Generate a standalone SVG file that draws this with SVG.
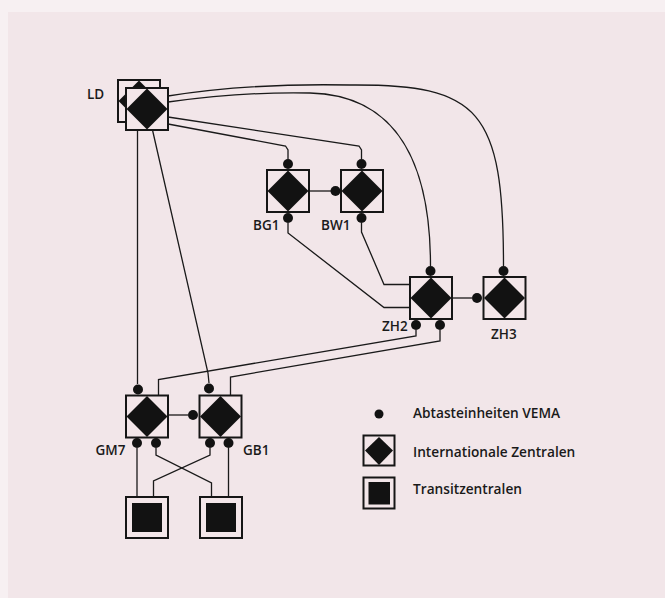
<svg xmlns="http://www.w3.org/2000/svg" xmlns:xlink="http://www.w3.org/1999/xlink" width="665" height="598" viewBox="0 0 665 598">
<style>
.box{fill:#f3e6e9;stroke:#161616;stroke-width:2}
.dia{fill:#121212}
.blk{fill:#121212}
.dot{fill:#121212}
.con{fill:none;stroke:#1a1a1a;stroke-width:1.3}
.lbl{font-family:"Open Sans","Noto Sans",sans-serif;font-size:13.5px;font-weight:600;fill:#1a1a1a}
.leg{font-family:"Open Sans","Noto Sans",sans-serif;font-size:13.7px;font-weight:600;fill:#1a1a1a}
</style>
<defs>
<g id="intl">
<rect class="box" x="0" y="0" width="42" height="42"/>
<polygon class="dia" points="21,0.5 41.5,21 21,41.5 0.5,21"/>
</g>
<g id="transit">
<rect class="box" x="0" y="0" width="42" height="41"/>
<rect class="blk" x="6" y="6" width="30" height="29"/>
</g>
</defs>
<rect x="0" y="0" width="665" height="598" fill="#f7f0f2"/>
<rect x="8" y="12" width="657" height="586" fill="#f2e6e9"/>

<g id="connectors">
<path class="con" d="M168,96 C230,86 300,84 350,85 C480,84 503.5,110 503.5,266"/>
<path class="con" d="M168,102 C220,95 270,92 310,93 C398,95 430.5,165 430.5,266"/>
<path class="con" d="M168,117 L359,146 L361.5,150 L361.5,159"/>
<path class="con" d="M168,124 L285.5,146 L288,150 L288,159"/>
<path class="con" d="M137.5,130 L137.5,384"/>
<path class="con" d="M152.5,130 L208,373 L209,383"/>
<path class="con" d="M309,191 L331,191"/>
<path class="con" d="M288,223 L288,233 L384,307.5 L410,307.5"/>
<path class="con" d="M361.5,223 L361.5,232 L384,284.5 L410,284.5"/>
<path class="con" d="M452,298 L472,298"/>
<path class="con" d="M416,330 L416,336 L158.5,379.5 L158.5,395.5"/>
<path class="con" d="M440,330 L440,341 L230.5,377 L230.5,395.5"/>
<path class="con" d="M168,415 L188,415"/>
<path class="con" d="M137,448 L137,497"/>
<path class="con" d="M156,448 L156,455 L211.5,483 L211.5,497"/>
<path class="con" d="M210,448 L210,455 L153.5,481 L153.5,497"/>
<path class="con" d="M228.5,448 L228.5,497"/>
</g>

<g id="LD">
<use xlink:href="#intl" x="118" y="80"/>
<use xlink:href="#intl" x="126" y="88"/>
<text class="lbl" x="87" y="98.5">LD</text>
</g>
<g id="BG1">
<use xlink:href="#intl" x="267" y="170"/>
<circle class="dot" cx="288" cy="164" r="5"/>
<circle class="dot" cx="288" cy="218" r="5"/>
<text class="lbl" x="253" y="230">BG1</text>
</g>
<g id="BW1">
<use xlink:href="#intl" x="341" y="170"/>
<circle class="dot" cx="361.5" cy="164" r="5"/>
<circle class="dot" cx="335.5" cy="191" r="5"/>
<circle class="dot" cx="361.5" cy="218" r="5"/>
<text class="lbl" x="321" y="230">BW1</text>
</g>
<g id="ZH2">
<use xlink:href="#intl" x="410" y="277"/>
<circle class="dot" cx="430.5" cy="271" r="5"/>
<circle class="dot" cx="416" cy="325" r="5"/>
<circle class="dot" cx="440" cy="325" r="5"/>
<text class="lbl" x="382" y="331">ZH2</text>
</g>
<g id="ZH3">
<use xlink:href="#intl" x="483.5" y="277"/>
<circle class="dot" cx="503.5" cy="271" r="5"/>
<circle class="dot" cx="477" cy="298" r="5"/>
<text class="lbl" x="491" y="338.5">ZH3</text>
</g>
<g id="GM7">
<use xlink:href="#intl" x="126" y="395.5"/>
<circle class="dot" cx="138" cy="389.5" r="5"/>
<circle class="dot" cx="137" cy="443" r="5"/>
<circle class="dot" cx="156" cy="443" r="5"/>
<text class="lbl" x="95.5" y="455">GM7</text>
</g>
<g id="GB1">
<use xlink:href="#intl" x="199.5" y="395.5"/>
<circle class="dot" cx="209" cy="388.5" r="5"/>
<circle class="dot" cx="193" cy="415" r="5"/>
<circle class="dot" cx="210" cy="443" r="5"/>
<circle class="dot" cx="228.5" cy="443" r="5"/>
<text class="lbl" x="243" y="455">GB1</text>
</g>
<g id="T1">
<use xlink:href="#transit" x="126" y="497"/>
</g>
<g id="T2">
<use xlink:href="#transit" x="200" y="497"/>
</g>

<g id="legend">
<circle class="dot" cx="379" cy="414" r="4.5"/>
<text class="leg" x="413" y="418">Abtasteinheiten VEMA</text>
<rect class="box" x="363.5" y="435.5" width="31" height="30"/>
<polygon class="dia" points="379,437 393,450.5 379,465 365,450.5"/>
<text class="leg" x="413" y="457">Internationale Zentralen</text>
<rect class="box" x="363.5" y="477.5" width="31" height="31"/>
<rect class="blk" x="368.5" y="482" width="21.5" height="22.5"/>
<text class="leg" x="413" y="493.5">Transitzentralen</text>
</g>
</svg>
